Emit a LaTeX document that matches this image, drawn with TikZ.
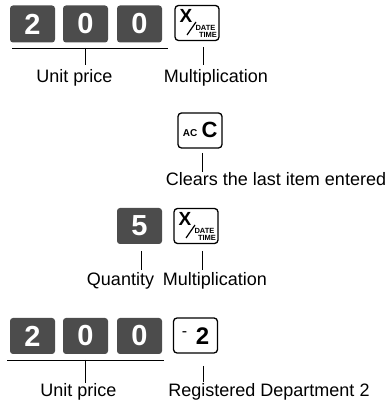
\documentclass[tikz,border=0pt]{standalone}
\usepackage{fontspec}
\setmainfont{Liberation Sans}
\begin{document}
\begin{tikzpicture}[x=1pt,y=1pt,line join=round,
	numkey/.style={fill=black!70,rounded corners=3pt,minimum width=45pt,minimum height=37pt,inner sep=0pt,text=white,font=\fontsize{29}{29}\selectfont\bfseries},
	fnkey/.style={draw,line width=1.3pt,rounded corners=3.5pt,minimum width=44pt,minimum height=35pt,inner sep=0pt,fill=white},
	lbl/.style={anchor=base,inner sep=0pt,font=\fontsize{18}{18}\selectfont},
	tick/.style={line width=0.8pt}]
			\useasboundingbox (0,0) rectangle (389,403);
			% contents of the multiplication key
			\def\xkey#1{
				\draw[line width=1.2pt] ([shift={(-10,-12)}]#1.center) -- ([shift={(-1,1)}]#1.center);
				\node[inner sep=0pt,font=\fontsize{19}{19}\selectfont\bfseries] (#1x) at ([shift={(-11,7)}]#1.center) {X};
				\node[inner sep=0pt,font=\fontsize{7.5}{7.5}\selectfont\bfseries] (#1d) at ([shift={(8.5,-5)}]#1.center) {DATE};
				\node[inner sep=0pt,font=\fontsize{7.5}{7.5}\selectfont\bfseries] (#1t) at ([shift={(11,-12)}]#1.center) {TIME};
			}
			% unit price, multiplication
			\foreach \n/\t/\x in {1/2/32.5,2/0/85.5,3/0/139.5}
			{\node[numkey] (pA_\n) at (\x,379) {\t};}
			\node[fnkey] (xA) at (197,380) {};
			\xkey{xA}
			% clear
			\node[fnkey] (acB) at (200,272.5) {};
			\node[inner sep=0pt,anchor=base,font=\fontsize{10}{10}\selectfont\bfseries] (acB_1) at (190,266) {AC};
			\node[inner sep=0pt,anchor=base,font=\fontsize{22}{22}\selectfont\bfseries] (acB_2) at (209.5,265) {C};
			% quantity, multiplication
			\node[numkey,minimum height=36pt] (qC) at (139.5,177) {5};
			\node[fnkey] (xC) at (196,177) {};
			\xkey{xC}
			% unit price, department
			\foreach \n/\t/\x in {1/2/32.5,2/0/85.5,3/0/139.5}
			{\node[numkey,minimum height=36pt] (pD_\n) at (\x,67) {\t};}
			\node[fnkey] (dD) at (195.5,67.5) {};
			\node[inner sep=0pt,font=\fontsize{16}{16}\selectfont] (dD_1) at (184.5,68.5) {-};
			\node[inner sep=0pt,font=\fontsize{24}{24}\selectfont\bfseries] (dD_2) at (202.5,66.5) {2};
			% labels
			\node[lbl] (uA) at (74.5,320) {Unit price};
			\node[lbl] (mA) at (216,320) {Multiplication};
			\node[lbl] (cB) at (276,217) {Clears the last item entered};
			\node[lbl] (qC_l) at (120.5,117) {Quantity};
			\node[lbl] (mC) at (215,117) {Multiplication};
			\node[lbl] (uD) at (78.5,6) {Unit price};
			\node[lbl] (rD) at (269,6) {Registered Department 2};
			\path
			(12,355) coordinate (bA_1) (168,355) coordinate (bA_2)
			(85,355) coordinate (tA_1) (85,338) coordinate (tA_2)
			(203,356) coordinate (tA_3) (203,338) coordinate (tA_4)
			(202,250) coordinate (tB_1) (202,231) coordinate (tB_2)
			(141,152) coordinate (tC_1) (141,133) coordinate (tC_2)
			(202,152) coordinate (tC_3) (202,133) coordinate (tC_4)
			(7,43) coordinate (bD_1) (164,43) coordinate (bD_2)
			(85,43) coordinate (tD_1) (85,20) coordinate (tD_2)
			(203,37) coordinate (tD_3) (203,21) coordinate (tD_4)
			;
			\draw[tick]
			(bA_1)--(bA_2) (tA_1)--(tA_2) (tA_3)--(tA_4)
			(tB_1)--(tB_2)
			(tC_1)--(tC_2) (tC_3)--(tC_4)
			(bD_1)--(bD_2) (tD_1)--(tD_2) (tD_3)--(tD_4)
			;
		\end{tikzpicture}
\end{document}
